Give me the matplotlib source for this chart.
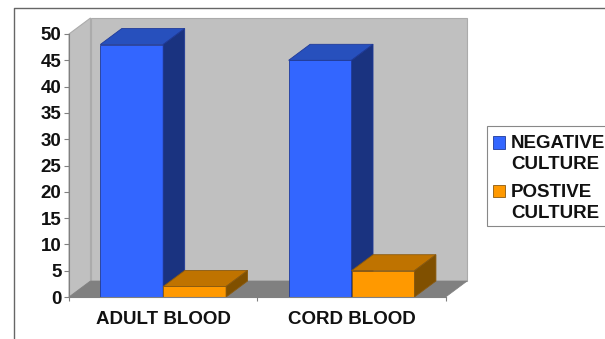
import numpy as np
from matplotlib import pyplot as plt
from matplotlib.patches import Polygon, Rectangle

plt.rcParams['font.family'] = ['Liberation Sans', 'DejaVu Sans']

categories = ['ADULT BLOOD', 'CORD BLOOD']
negative = [48, 45]
positive = [2, 5]
series_labels = ['NEGATIVE\nCULTURE', 'POSTIVE\nCULTURE']
y_ticks = list(range(0, 55, 5))

W, H = 605, 339
FS = 13.5
BLUE = ('#3366ff', '#2750bd', '#1a3380')
ORANGE = ('#ff9900', '#bf7300', '#805000')


def box3d(ax, x0, width, height, dx, dy, colors, edge):
    x1 = x0 + width
    ax.add_patch(Rectangle((x0, 0), width, height, fc=colors[0], ec=edge, lw=0.6, clip_on=False))
    ax.add_patch(Polygon([(x0, height), (x1, height), (x1 + dx, height + dy), (x0 + dx, height + dy)],
                         fc=colors[1], ec=edge, lw=0.6, clip_on=False))
    ax.add_patch(Polygon([(x1, 0), (x1 + dx, dy), (x1 + dx, height + dy), (x1, height)],
                         fc=colors[2], ec=edge, lw=0.6, clip_on=False))


def main():
    fig = plt.figure(figsize=(W / 100, H / 100), dpi=100)
    ax = fig.add_axes([69 / W, (H - 297) / H, 376.7 / W, 263 / H])
    ax.set_xlim(0, 2)
    ax.set_ylim(0, 50)

    # depth of the fake 3d, px converted to data units
    dx = 21.5 / 188.35
    dy = 16 / 5.26

    # walls and floor
    ax.add_patch(Polygon([(dx, dy), (2 + dx, dy), (2 + dx, 50 + dy), (dx, 50 + dy)],
                         fc='#c0c0c0', ec='#ababab', lw=0.8, clip_on=False))
    ax.add_patch(Polygon([(0, 0), (dx, dy), (dx, 50 + dy), (0, 50)],
                         fc='#c0c0c0', ec='#ababab', lw=0.8, clip_on=False))
    ax.add_patch(Polygon([(0, 0), (2, 0), (2 + dx, dy), (dx, dy)],
                         fc='#808080', ec='#808080', lw=0.5, clip_on=False))

    bar_w = 0.334
    gap = 0.166
    for i in range(len(categories)):
        box3d(ax, i + gap, bar_w, negative[i], dx, dy, BLUE, '#1f3a99')
        box3d(ax, i + gap + bar_w, bar_w, positive[i], dx, dy, ORANGE, '#8a5a10')

    for side in ['top', 'right']:
        ax.spines[side].set_visible(False)
    for side in ['left', 'bottom']:
        ax.spines[side].set_color('#808080')
        ax.spines[side].set_linewidth(0.8)
    ax.set_facecolor('none')
    ax.set_axisbelow(False)

    ax.set_yticks(y_ticks)
    ax.set_yticklabels([str(v) for v in y_ticks], fontsize=FS, fontweight='bold', color='#111111')
    ax.tick_params(axis='y', length=3.5, width=0.8, color='#808080', pad=2)
    ax.set_xticks([0, 1, 2])
    ax.set_xticklabels([])
    ax.tick_params(axis='x', length=3, width=0.8, color='#808080')
    ax.set_xticks([0.5, 1.5], minor=True)
    ax.set_xticklabels(categories, minor=True, fontsize=FS, fontweight='bold', color='#111111')
    ax.tick_params(axis='x', which='minor', length=0, pad=10)

    # outer chart frame runs off the right and bottom of the image
    fig.add_artist(plt.Line2D([14 / W, 14 / W, 1], [0, (H - 8) / H, (H - 8) / H], color='#666666', lw=1.0))

    # legend box, also cut by the image edge
    fig.add_artist(Rectangle((487 / W, (H - 225.5) / H), 130 / W, 99.5 / H, fc='white', ec='#888888', lw=0.8,
                             transform=fig.transFigure))
    for j, (label, color, edge) in enumerate(zip(series_labels, [BLUE[0], ORANGE[0]], ['#1f3a99', '#8a5a10'])):
        top = 134 + j * 48.7
        fig.add_artist(Rectangle((493 / W, (H - top - 14.5) / H), 12 / W, 12.5 / H, fc=color, ec=edge, lw=0.6,
                                 transform=fig.transFigure))
        fig.text(511 / W, (H - top - 1.5) / H, label, fontsize=FS, fontweight='bold', color='#111111',
                 va='top', ha='left', ma='left', linespacing=1.26)

    fig.savefig('out.png', dpi=100)


if __name__ == '__main__':
    main()
